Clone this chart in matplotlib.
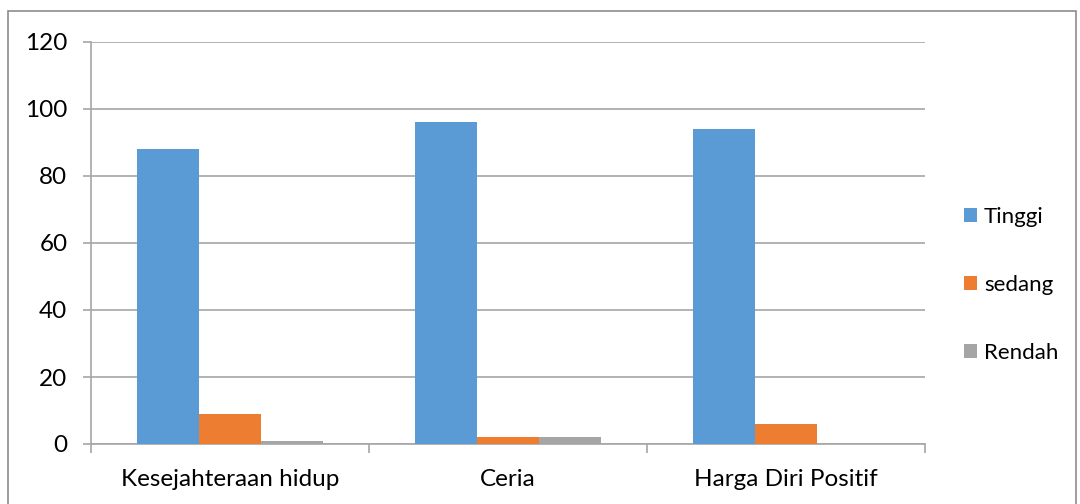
import numpy as np
import matplotlib.pyplot as plt
from matplotlib.patches import Rectangle

kategori = ["Kesejahteraan hidup", "Ceria", "Harga Diri Positif"]
seri = ["Tinggi", "sedang", "Rendah"]
tinggi = [88, 96, 94]
sedang = [9, 2, 6]
rendah = [1, 2, 0]
warna = ["#5b9bd5", "#ed7d31", "#a5a5a5"]

plt.rcParams['font.family'] = ['Lato', 'DejaVu Sans']

fig = plt.figure(figsize=(10.8, 5.04), dpi=100)
ax = fig.add_axes([91 / 1080, 1 - 444 / 504, (925 - 91) / 1080, (444 - 42) / 504])

x = np.arange(len(kategori))
lebar = 1 / 4.5
for i, (nama, nilai) in enumerate(zip(seri, [tinggi, sedang, rendah])):
    ax.bar(x + (i - 1) * lebar, nilai, width=lebar, color=warna[i], label=nama, zorder=3)

ax.set_xlim(-0.5, 2.5)
ax.set_ylim(0, 120)
ax.set_yticks(range(0, 121, 20))
ax.yaxis.grid(True, color="#a6a6a6", linewidth=1.2, zorder=0)
ax.set_axisbelow(True)

ax.set_xticks(x)
ax.set_xticklabels(kategori)
ax.set_xticks([-0.5, 0.5, 1.5, 2.5], minor=True)
ax.tick_params(axis='x', which='major', length=0, pad=18, labelsize=17.5)
ax.tick_params(axis='x', which='minor', length=6.5, color="#a6a6a6", width=1.2)
ax.tick_params(axis='y', length=6, color="#a6a6a6", width=1.2, labelsize=17.5, pad=11)

for s in ['top', 'right']:
    ax.spines[s].set_visible(False)
for s in ['left', 'bottom']:
    ax.spines[s].set_color("#a6a6a6")
    ax.spines[s].set_linewidth(1.2)

ax.legend(loc='center left', bbox_to_anchor=(944 / 1080, 1 - 285 / 504), bbox_transform=fig.transFigure,
          frameon=False, fontsize=16, handlelength=0.6, handleheight=0.6, handletextpad=0.3,
          labelspacing=2.15)

# bingkai luar grafik
fig.patches.append(Rectangle((8 / 1080, -0.05), 1 - 12 / 1080, 1.05 - 11 / 504, transform=fig.transFigure,
                             fill=False, edgecolor="#8c8c8c", linewidth=1.2))

fig.savefig("out.png", dpi=100)
